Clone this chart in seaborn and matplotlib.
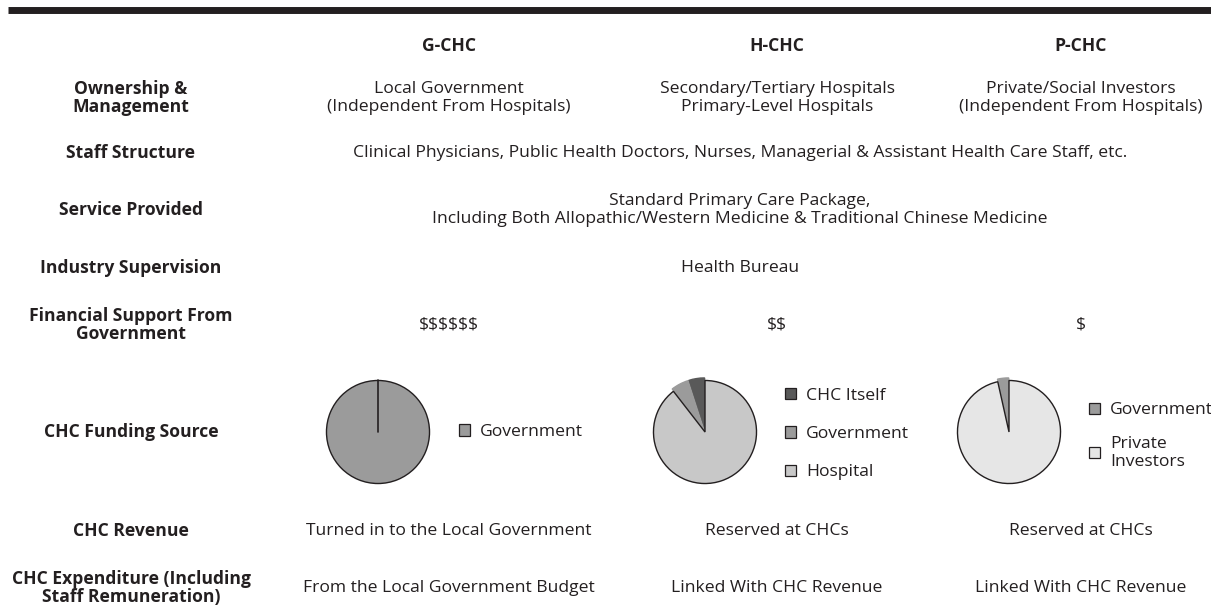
import matplotlib
matplotlib.use("Agg")
import matplotlib.pyplot as plt
import seaborn as sns
from matplotlib.patches import Patch

# ---- data -----------------------------------------------------------------
models = ["G-CHC", "H-CHC", "P-CHC"]
row_labels = [
    "Ownership &\nManagement",
    "Staff Structure",
    "Service Provided",
    "Industry Supervision",
    "Financial Support From\nGovernment",
    "CHC Funding Source",
    "CHC Revenue",
    "CHC Expenditure (Including\nStaff Remuneration)",
]
ownership = [
    "Local Government\n(Independent From Hospitals)",
    "Secondary/Tertiary Hospitals\nPrimary-Level Hospitals",
    "Private/Social Investors\n(Independent From Hospitals)",
]
staff = ("Clinical Physicians, Public Health Doctors, Nurses, "
         "Managerial & Assistant Health Care Staff, etc.")
service = ("Standard Primary Care Package,\nIncluding Both Allopathic/Western "
           "Medicine & Traditional Chinese Medicine")
supervision = "Health Bureau"
financial = ["$$$$$$", "$$", "$"]
revenue = ["Turned in to the Local Government", "Reserved at CHCs", "Reserved at CHCs"]
expenditure = ["From the Local Government Budget", "Linked With CHC Revenue",
               "Linked With CHC Revenue"]

g_labels = ["Government"]
g_shares = [100]
h_labels = ["CHC Itself", "Government", "Hospital"]
h_shares = [5, 5.5, 89.5]
p_labels = ["Government", "Private\nInvestors"]
p_shares = [3.5, 96.5]

# ---- style / layout -------------------------------------------------------
W, H = 1211, 609
sns.set_theme(style="white")
plt.rcParams["font.family"] = ["Open Sans", "DejaVu Sans"]
plt.rcParams["text.parse_math"] = False
ink = "#231f20"
body_fs = 12.6
label_fs = 12.6

col_x = [449, 777, 1081]
mid_x = 740
label_x = 131
header_y = 46
row_y = [98, 153, 210, 268, 325, 432, 531, 588]
pie_x = [378, 705, 1009]

fig = plt.figure(figsize=(W / 100, H / 100), dpi=100)
ax = fig.add_axes([0, 0, 1, 1])
ax.set_xlim(0, W)
ax.set_ylim(H, 0)
ax.axis("off")

ax.plot([8, W], [10, 10], color=ink, lw=5, solid_capstyle="butt")

for x, m in zip(col_x, models):
    ax.text(x, header_y, m, ha="center", va="center", fontsize=label_fs,
            fontweight="bold", color=ink)

for y, lab in zip(row_y, row_labels):
    ax.text(label_x, y, lab, ha="center", va="center", fontsize=label_fs,
            fontweight="bold", color=ink, linespacing=1.0)

def body(x, y, s):
    ax.text(x, y, s, ha="center", va="center", fontsize=body_fs, color=ink,
            linespacing=1.1)

for x, s in zip(col_x, ownership):
    body(x, row_y[0], s)
body(mid_x, row_y[1], staff)
body(mid_x, row_y[2], service)
body(mid_x, row_y[3], supervision)
for x, s in zip(col_x, financial):
    body(x, row_y[4], s)
for x, s in zip(col_x, revenue):
    body(x, row_y[6], s)
for x, s in zip(col_x, expenditure):
    body(x, row_y[7], s)

# ---- pies -----------------------------------------------------------------
r = 56
pie_y = row_y[5]

def pie_axes(cx, cy):
    pa = fig.add_axes([(cx - 1.15 * r) / W, 1 - (cy + 1.15 * r) / H,
                       2.3 * r / W, 2.3 * r / H])
    pa.set_xlim(-1.15, 1.15)
    pa.set_ylim(-1.15, 1.15)
    pa.axis("off")
    return pa

def legend(pa, colors, labels, x, y, spacing):
    handles = [Patch(facecolor=c, edgecolor=ink, lw=0.9) for c in colors]
    leg = pa.legend(handles, labels, loc="center left",
                    bbox_to_anchor=(x / W, 1 - y / H),
                    bbox_transform=fig.transFigure, frameon=False,
                    fontsize=body_fs, handlelength=0.62, handleheight=0.62,
                    handletextpad=0.6, labelspacing=spacing, borderpad=0,
                    borderaxespad=0, labelcolor=ink)
    for t in leg.get_texts():
        t.set_linespacing(1.15)
    return leg

wp = dict(edgecolor=ink, linewidth=1)

g_colors = ["#9b9b9b"]
pa = pie_axes(pie_x[0], pie_y)
pa.pie(g_shares, colors=g_colors, startangle=90, wedgeprops=wp)
pa.plot([0, 0], [0, 1], color=ink, lw=1.2)
legend(pa, g_colors, g_labels, 459, pie_y, 1.0)

h_colors = ["#595959", "#9b9b9b", "#c8c8c8"]
pa = pie_axes(pie_x[1], pie_y)
wedges, _ = pa.pie(h_shares, colors=h_colors, startangle=90, wedgeprops=wp,
                   explode=[0.05, 0.05, 0])
for w_ in wedges[:2]:
    w_.set_edgecolor(w_.get_facecolor())
legend(pa, h_colors, h_labels, 785, 434, 1.28)

p_colors = ["#9b9b9b", "#e6e6e6"]
pa = pie_axes(pie_x[2], pie_y)
wedges, _ = pa.pie(p_shares, colors=p_colors, startangle=90, wedgeprops=wp,
                   explode=[0.05, 0])
wedges[0].set_edgecolor(wedges[0].get_facecolor())
legend(pa, p_colors, p_labels, 1089, 436, 1.0)

fig.savefig("out.png", dpi=100)
